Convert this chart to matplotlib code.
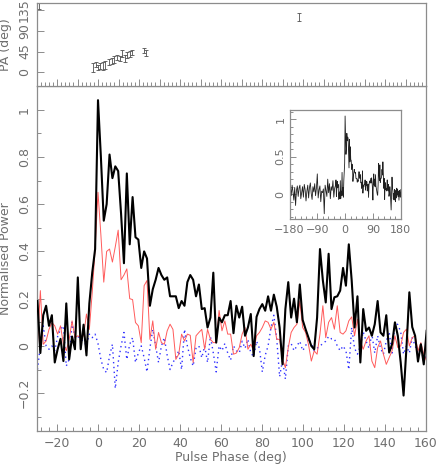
import numpy as np
import matplotlib
matplotlib.use("Agg")
import matplotlib.pyplot as plt
from matplotlib.ticker import MultipleLocator, FixedLocator

# ---------------- data ----------------
BIN = 360.0 / 256.0
first_bin, last_bin = -21, 114
phase = np.arange(first_bin, last_bin + 1) * BIN

total_I = [0.19, -0.03, 0.13, 0.17, 0.085, 0.13, -0.07, -0.014, 0.03, -0.064, 0.18, -0.057, 0.04, -0.014, 0.29, -0.014, 0.09, -0.04, 0.18, 0.31, 0.41, 1.04,
           0.80, 0.53, 0.60, 0.81, 0.71, 0.76, 0.74, 0.56, 0.35, 0.73, 0.43, 0.63, 0.46, 0.45, 0.33, 0.40, 0.37, 0.17, 0.24, 0.28,
           0.33, 0.30, 0.28, 0.29, 0.21, 0.21, 0.21, 0.16, 0.19, 0.17, 0.27, 0.30, 0.28, 0.21, 0.26, 0.156, 0.16, 0.078, 0.12, 0.31,
           0.014, 0.12, 0.10, 0.13, 0.13, 0.19, 0.054, 0.17, 0.12, 0.166, 0.043, 0.078, 0.135, -0.043, 0.123, 0.156, 0.177, 0.149, 0.21, 0.149,
           0.217, 0.166, 0.078, -0.078, 0.156, 0.27, 0.12, 0.2, 0.1, 0.26, 0.11, 0.071, 0.035, 0.0, -0.014, 0.12, 0.41, 0.277, 0.184, 0.39,
           0.156, 0.206, 0.21, 0.234, 0.33, 0.255, 0.43, 0.277, 0.078, 0.21, -0.07, 0.156, 0.064, 0.078, 0.043, 0.092, 0.19, 0.057, 0.043, 0.13,
           -0.028, 0.007, 0.1, 0.043, -0.07, -0.21, -0.007, 0.227, 0.08, 0.043, -0.066, 0.007, -0.078, 0.064]

linear_L = [0.007, 0.234, 0.007, 0.021, 0.07, 0.099, 0.085, 0.05, 0.085, 0.007, -0.02, 0.028, 0.106, 0.035, 0.043, 0.035, 0.043, 0.135, 0.07, 0.227, 0.41, 0.65,
            0.47, 0.27, 0.40, 0.41, 0.355, 0.42, 0.49, 0.28, 0.30, 0.326, 0.2, 0.196, 0.099, 0.085, 0.014, 0.255, 0.277, 0.028, 0.106, -0.014,
            0.057, 0.014, 0.007, 0.064, 0.092, 0.07, -0.057, -0.035, 0.05, 0.021, 0.05, 0.045, -0.07, 0.043, 0.057, 0.07, -0.014, 0.07, 0.028, 0.014,
            0.014, 0.15, 0.064, 0.106, 0.05, 0.05, -0.035, -0.03, -0.007, 0.05, 0.078, -0.014, 0.007, -0.021, 0.043, 0.057, 0.078, 0.106, 0.1, 0.071,
            0.1, 0.028, 0.028, -0.057, -0.092, -0.007, 0.057, 0.078, 0.092, 0.19, 0.078, 0.057, 0.007, -0.064, -0.021, -0.035, 0.05, 0.17, 0.035, 0.1,
            0.12, 0.071, 0.17, 0.057, 0.05, 0.064, 0.106, 0.123, 0.043, 0.113, 0.021, -0.014, 0.021, 0.043, -0.064, -0.092, -0.007, 0.021, -0.035, -0.078,
            -0.05, -0.021, 0.043, -0.007, 0.0, 0.057, 0.071, 0.0, 0.035, 0.043, -0.021, 0.014, -0.035, -0.064]

circular_V = [-0.1, 0.0, 0.085, 0.0, -0.014, 0.0, -0.02, 0.04, 0.07, 0.085, -0.085, -0.057, 0.1, 0.035, 0.04, 0.03, 0.02, 0.0, 0.05, 0.035, 0.05, 0.01,
              -0.057, -0.1, -0.113, -0.043, 0.007, -0.18, -0.07, 0.0, 0.057, -0.057, 0.007, 0.035, -0.07, -0.03, 0.0, -0.05, -0.11, -0.01, 0.07, 0.0,
              -0.07, 0.0, 0.035, -0.04, -0.1, -0.07, -0.05, -0.02, -0.1, 0.07, 0.0, -0.05, -0.085, -0.01, 0.0, -0.05, 0.0, -0.07, 0.04, -0.03,
              -0.11, 0.0, -0.02, 0.01, -0.03, -0.06, 0.0, -0.02, -0.03, 0.02, -0.01, 0.028, -0.03, -0.045, 0.02, -0.01, -0.11, -0.04, 0.0, 0.078,
              0.13, 0.03, -0.13, -0.06, -0.14, 0.0, 0.01, -0.02, 0.0, 0.02, -0.02, 0.0, 0.03, 0.01, -0.02, -0.01, 0.0, 0.01, 0.02, 0.04,
              0.03, 0.03, 0.0, -0.02, 0.0, -0.02, -0.1, 0.078, -0.01, -0.035, 0.0, 0.06, 0.02, -0.01, 0.05, -0.03, 0.043, -0.01, -0.035, 0.02,
              0.06, -0.03, 0.1, 0.09, 0.06, -0.035, 0.0, -0.03, 0.035, 0.0, -0.03, -0.01, -0.064, -0.04]

# position angle points
pa_phase = [-28.8, -2.4, -1.1, -0.2, 1.1, 2.4, 3.4, 5.5, 6.7, 8.0, 9.3, 10.6, 11.9, 13.0, 14.3, 15.4, 16.6, 22.4, 23.6, 98.0]
pa_value = [144, 10, 17, 10, 13, 13, 16, 22, 24, 27, 32, 30, 41, 30, 37, 40, 43, 47, 42, 120]
pa_error = [6, 9, 6, 6, 6, 9, 8, 7, 7, 8, 6, 6, 7, 8, 7, 7, 6, 6, 6, 9]

# inset: off-pulse parts of full-period profile (coarse reading)
inset_pre_phase = np.arange(-180.0, -30.0, 2 * BIN)
inset_pre_I = [0.07, 0.10, -0.02, 0.12, 0.03, -0.08, 0.09, -0.15, 0.05, 0.11,
               -0.03, 0.08, 0.12, -0.06, 0.02, 0.10, -0.04, 0.13, 0.06, -0.09,
               0.04, 0.12, -0.05, 0.09, 0.15, 0.01, -0.07, 0.10, 0.03, 0.14,
               -0.02, 0.08, 0.27, -0.05, 0.06, 0.11, -0.10, 0.04, 0.02, 0.07,
               -0.26, 0.12, 0.05, -0.03, 0.20, 0.02, 0.14, -0.06, 0.10, 0.05,
               0.18, -0.04, 0.08, 0.12]
inset_post_phase = np.arange(last_bin + 1, 128.5) * BIN
inset_post_I = [0.02, -0.10, 0.05, -0.05, 0.08, 0.00, 0.06, -0.03, 0.04, -0.08, 0.05, 0.02, -0.04, 0.06][:len(inset_post_phase)]

main_xticks = [-20, 0, 20, 40, 60, 80, 100, 120, 140, 160]
main_yticks = [-0.2, 0, 0.2, 0.4, 0.6, 0.8, 1]
pa_yticks = [0, 45, 90, 135]
inset_xticks = [-180, -90, 0, 90, 180]
inset_yticks = [0, 0.5, 1]

# ---------------- style ----------------
FRAME = "#8c8c8c"
TEXT = "#6e6e6e"
plt.rcParams["font.family"] = ["DejaVu Sans"]
plt.rcParams["axes.unicode_minus"] = True

W, H = 436, 473
fig = plt.figure(figsize=(W / 100, H / 100), dpi=100)

def frac(x0, y0, x1, y1):
    return [x0 / W, 1 - y1 / H, (x1 - x0) / W, (y1 - y0) / H]

def style(ax, fs=9):
    for s in ax.spines.values():
        s.set_color(FRAME)
        s.set_linewidth(0.9)
    ax.tick_params(which="both", direction="in", colors=FRAME, labelcolor=TEXT, labelsize=fs, width=0.7)
    ax.tick_params(which="major", length=5)
    ax.tick_params(which="minor", length=3)
    ax.tick_params(top=False, right=False)

# main panel
ax = fig.add_axes(frac(36.5, 86, 426, 431))
ax.plot(phase, total_I, color="black", lw=1.5, zorder=3)
ax.plot(phase, linear_L, color="#ff5a5a", lw=0.7, zorder=2)
ax.plot(phase, circular_V, color="#3030ff", lw=1.0, ls=(0, (1, 2.5)), zorder=1)
ax.set_xlim(-30, 160)
ax.set_ylim(-0.36, 1.10)
style(ax)
ax.xaxis.set_major_locator(FixedLocator(main_xticks))
ax.xaxis.set_minor_locator(MultipleLocator(4))
ax.yaxis.set_major_locator(FixedLocator(main_yticks))
ax.yaxis.set_minor_locator(MultipleLocator(0.1))
ax.set_xticklabels([str(t).replace("-", "\u2212") for t in main_xticks])
ax.set_yticklabels(["\u22120.2", "0", "0.2", "0.4", "0.6", "0.8", "1"], rotation=90, va="center")
ax.tick_params(axis="x", pad=4)
ax.tick_params(axis="y", pad=4)
ax.set_xlabel("Pulse Phase (deg)", color=TEXT, fontsize=9, labelpad=1)
ax.set_ylabel("Normalised Power", color=TEXT, fontsize=9, labelpad=4)

# PA panel
axp = fig.add_axes(frac(36.5, 3.3, 426, 86))
axp.errorbar(pa_phase, pa_value, yerr=pa_error, fmt="none", ecolor="#505050", elinewidth=0.6, capsize=1.2, capthick=0.6)
axp.set_xlim(-30, 160)
axp.set_ylim(-30, 150)
style(axp)
axp.xaxis.set_major_locator(MultipleLocator(10))
axp.xaxis.set_minor_locator(MultipleLocator(2))
axp.tick_params(axis="x", labelbottom=False)
axp.yaxis.set_major_locator(FixedLocator(pa_yticks))
axp.set_yticklabels(["0", "45", "90", "135"], rotation=90, va="center")
axp.tick_params(axis="y", pad=4)
axp.set_ylabel("PA (deg)", color=TEXT, fontsize=9, labelpad=4)

# inset
axi = fig.add_axes(frac(289.5, 110, 400.7, 219))
axi.plot(np.concatenate([inset_pre_phase, phase, inset_post_phase]),
         np.concatenate([inset_pre_I, total_I, inset_post_I]),
         color="#202020", lw=0.6)
axi.set_xlim(-180, 180)
axi.set_ylim(-0.33, 1.12)
style(axi, fs=8)
axi.tick_params(which="major", length=4)
axi.tick_params(which="minor", length=2)
axi.xaxis.set_major_locator(FixedLocator(inset_xticks))
axi.xaxis.set_minor_locator(MultipleLocator(18))
axi.yaxis.set_major_locator(FixedLocator(inset_yticks))
axi.yaxis.set_minor_locator(MultipleLocator(0.1))
axi.set_xticklabels(["\u2212180", "\u221290", "0", "90", "180"])
axi.set_yticklabels(["0", "0.5", "1"], rotation=90, va="center")
axi.tick_params(axis="x", pad=4)
axi.tick_params(axis="y", pad=3)

fig.savefig("out.png", dpi=100)
